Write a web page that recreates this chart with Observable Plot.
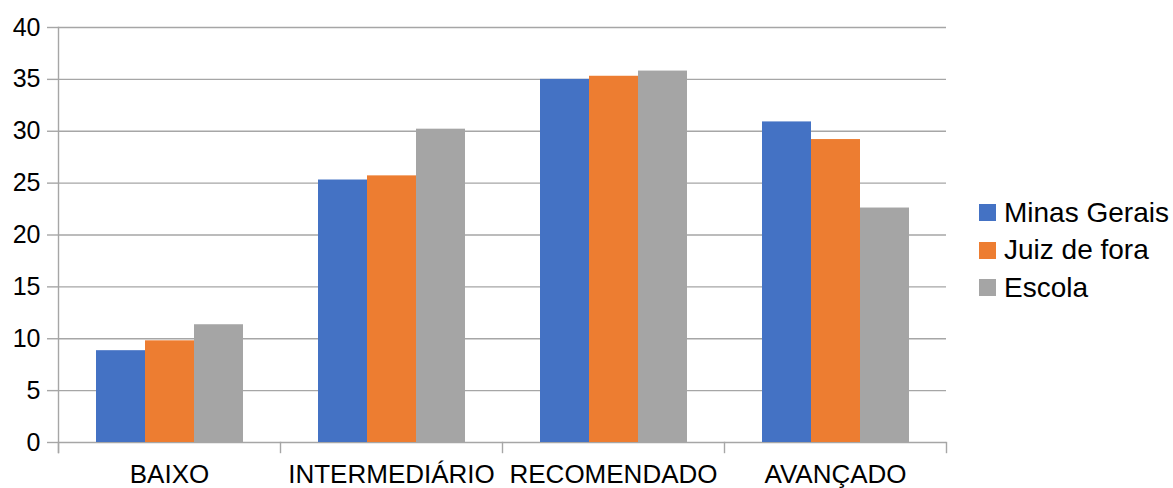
<!DOCTYPE html>
<html>
<head>
<meta charset="utf-8">
<script src="https://cdn.jsdelivr.net/npm/d3@7"></script>
<script src="https://cdn.jsdelivr.net/npm/@observablehq/plot@0.6"></script>
<style>
  html, body { margin: 0; padding: 0; background: #fff; }
  #chart { position: relative; width: 1173px; height: 488px; font-family: "Liberation Sans", Arial, sans-serif; }
  #chart svg { position: absolute; left: 0; top: 0; }
  #legend { position: absolute; left: 979px; top: 194px; }
  .item { display: flex; align-items: center; height: 37.5px; font-size: 28px; color: #000; }
  .swatch { width: 17px; height: 17px; margin-right: 8px; flex: none; }
</style>
</head>
<body>
<div id="chart"></div>
<script>
// Proficiency levels and share of students (%) per region
const categories = ["BAIXO", "INTERMEDIÁRIO", "RECOMENDADO", "AVANÇADO"];
const series = ["Minas Gerais", "Juiz de fora", "Escola"];
const minasGerais = [8.85, 25.3, 35.0, 30.9];
const juizDeFora = [9.8, 25.7, 35.3, 29.2];
const escola = [11.35, 30.2, 35.8, 22.6];
const yTicks = [0, 5, 10, 15, 20, 25, 30, 35, 40];
const colors = ["#4472c4", "#ed7d31", "#a5a5a5"];

const values = [minasGerais, juizDeFora, escola];
const data = [];
categories.forEach((c, i) => {
  series.forEach((s, j) => data.push({category: c, series: s, value: values[j][i]}));
});

const W = 1173, H = 488;
const mTop = 27, mBottom = 46, mLeft = 58, mRight = 227;
const frameH = H - mTop - mBottom;
const gridColor = "#a6a6a6";

const chart = Plot.plot({
  width: W,
  height: H,
  marginTop: mTop,
  marginBottom: mBottom,
  marginLeft: mLeft,
  marginRight: mRight,
  style: {fontFamily: "'Liberation Sans', Arial, sans-serif", color: "#000", background: "#fff"},
  fx: {domain: categories, padding: 0, label: null},
  x: {domain: series, paddingInner: 0, paddingOuter: 0.75, axis: null},
  y: {domain: [0, 40], label: null},
  color: {domain: series, range: colors},
  marks: [
    Plot.gridY(yTicks, {stroke: gridColor, strokeOpacity: 1, strokeWidth: 1.4}),
    Plot.axisY(yTicks, {
      tickSize: 11, tickPadding: 7, fontSize: 25, stroke: gridColor, strokeWidth: 1.4,
      strokeOpacity: 1, fill: "#000", label: null
    }),
    Plot.axisFx({anchor: "bottom", tickSize: 0, tickPadding: 22, fontSize: 26, fill: "#000", label: null}),
    Plot.barY(data, {fx: "category", x: "series", y: "value", fill: "series"}),
    // vertical axis line, extended below the baseline
    Plot.frame({anchor: "left", facetAnchor: "left", stroke: gridColor, strokeWidth: 1.4, insetBottom: -10}),
    // category boundary ticks under the baseline
    Plot.frame({anchor: "left", stroke: gridColor, strokeWidth: 1.4, insetTop: frameH, insetBottom: -10}),
    Plot.frame({anchor: "right", facetAnchor: "right", stroke: gridColor, strokeWidth: 1.4, insetTop: frameH, insetBottom: -10})
  ]
});

const root = document.getElementById("chart");
root.appendChild(chart);

const legend = document.createElement("div");
legend.id = "legend";
series.forEach((s, i) => {
  const item = document.createElement("div");
  item.className = "item";
  const sw = document.createElement("span");
  sw.className = "swatch";
  sw.style.background = colors[i];
  const label = document.createElement("span");
  label.textContent = s;
  item.appendChild(sw);
  item.appendChild(label);
  legend.appendChild(item);
});
root.appendChild(legend);
</script>
</body>
</html>
